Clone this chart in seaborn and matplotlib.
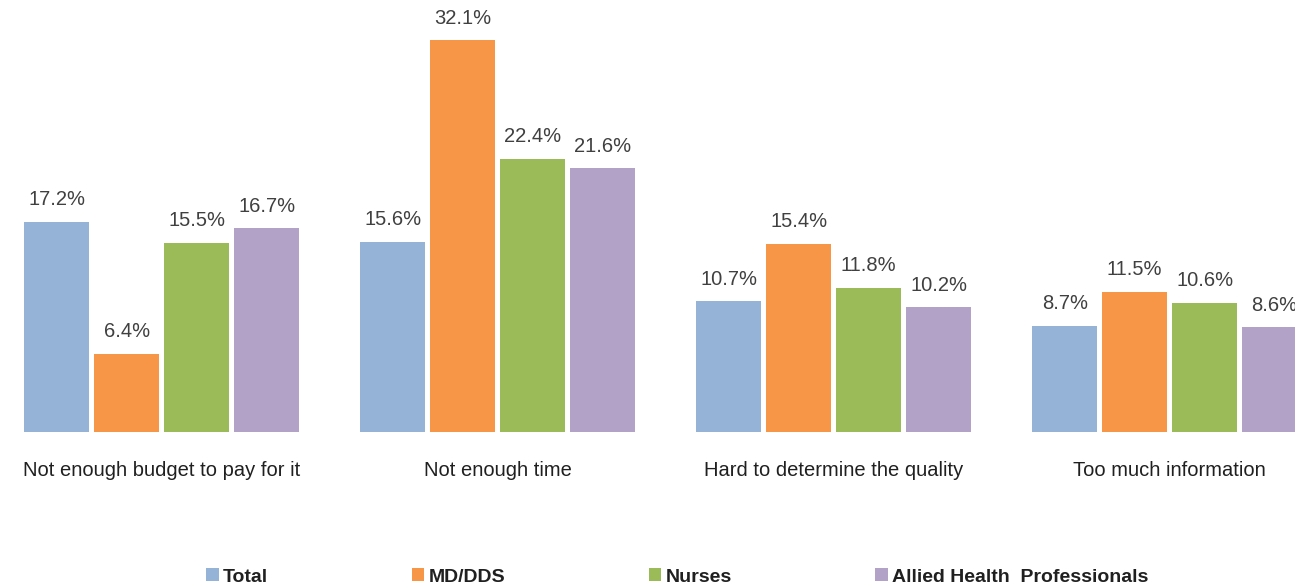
import matplotlib
matplotlib.use("Agg")
import matplotlib.pyplot as plt
import seaborn as sns
import pandas as pd

categories = ["Not enough budget to pay for it", "Not enough time",
              "Hard to determine the quality", "Too much information"]
groups = ["Total", "MD/DDS", "Nurses", "Allied Health  Professionals"]
total = [17.2, 15.6, 10.7, 8.7]
md_dds = [6.4, 32.1, 15.4, 11.5]
nurses = [15.5, 22.4, 11.8, 10.6]
allied = [16.7, 21.6, 10.2, 8.6]
colors = ["#95B3D7", "#F79646", "#9BBB59", "#B3A2C7"]

rows = []
for g, vals in zip(groups, [total, md_dds, nurses, allied]):
    for c, v in zip(categories, vals):
        rows.append({"category": c, "group": g, "value": v})
df = pd.DataFrame(rows)

sns.set_theme(style="white")
plt.rcParams["font.family"] = ["Liberation Sans", "DejaVu Sans"]

fig = plt.figure(figsize=(12.95, 5.87), dpi=100)
ax = fig.add_axes([0, 0.264, 1, 0.736])
sns.barplot(data=df, x="category", y="value", hue="group", order=categories,
            hue_order=groups, palette=colors, width=0.833, gap=0.07,
            linewidth=0, saturation=1, ax=ax, legend=True)

for cont in ax.containers:
    ax.bar_label(cont, fmt="%.1f%%", padding=9, fontsize=14.5, color="#404040")

ax.set_xlim(-0.481, 3.373)
ax.set_ylim(0, 35.38)
ax.set_xlabel("")
ax.set_ylabel("")
ax.set_yticks([])
for s in ax.spines.values():
    s.set_visible(False)
ax.tick_params(axis="x", length=0, pad=20.5, labelsize=14.5, labelcolor="#202020")

handles, labels = ax.get_legend_handles_labels()
ax.get_legend().remove()
fig.legend(handles, labels, loc="center", bbox_to_anchor=(0.523, 0.017), ncol=4,
           frameon=False, handlelength=0.65, handleheight=0.65, handletextpad=0.2,
           columnspacing=7.4, prop={"weight": "bold", "size": 14}, labelcolor="#202020")

fig.savefig("out.png", dpi=100)
